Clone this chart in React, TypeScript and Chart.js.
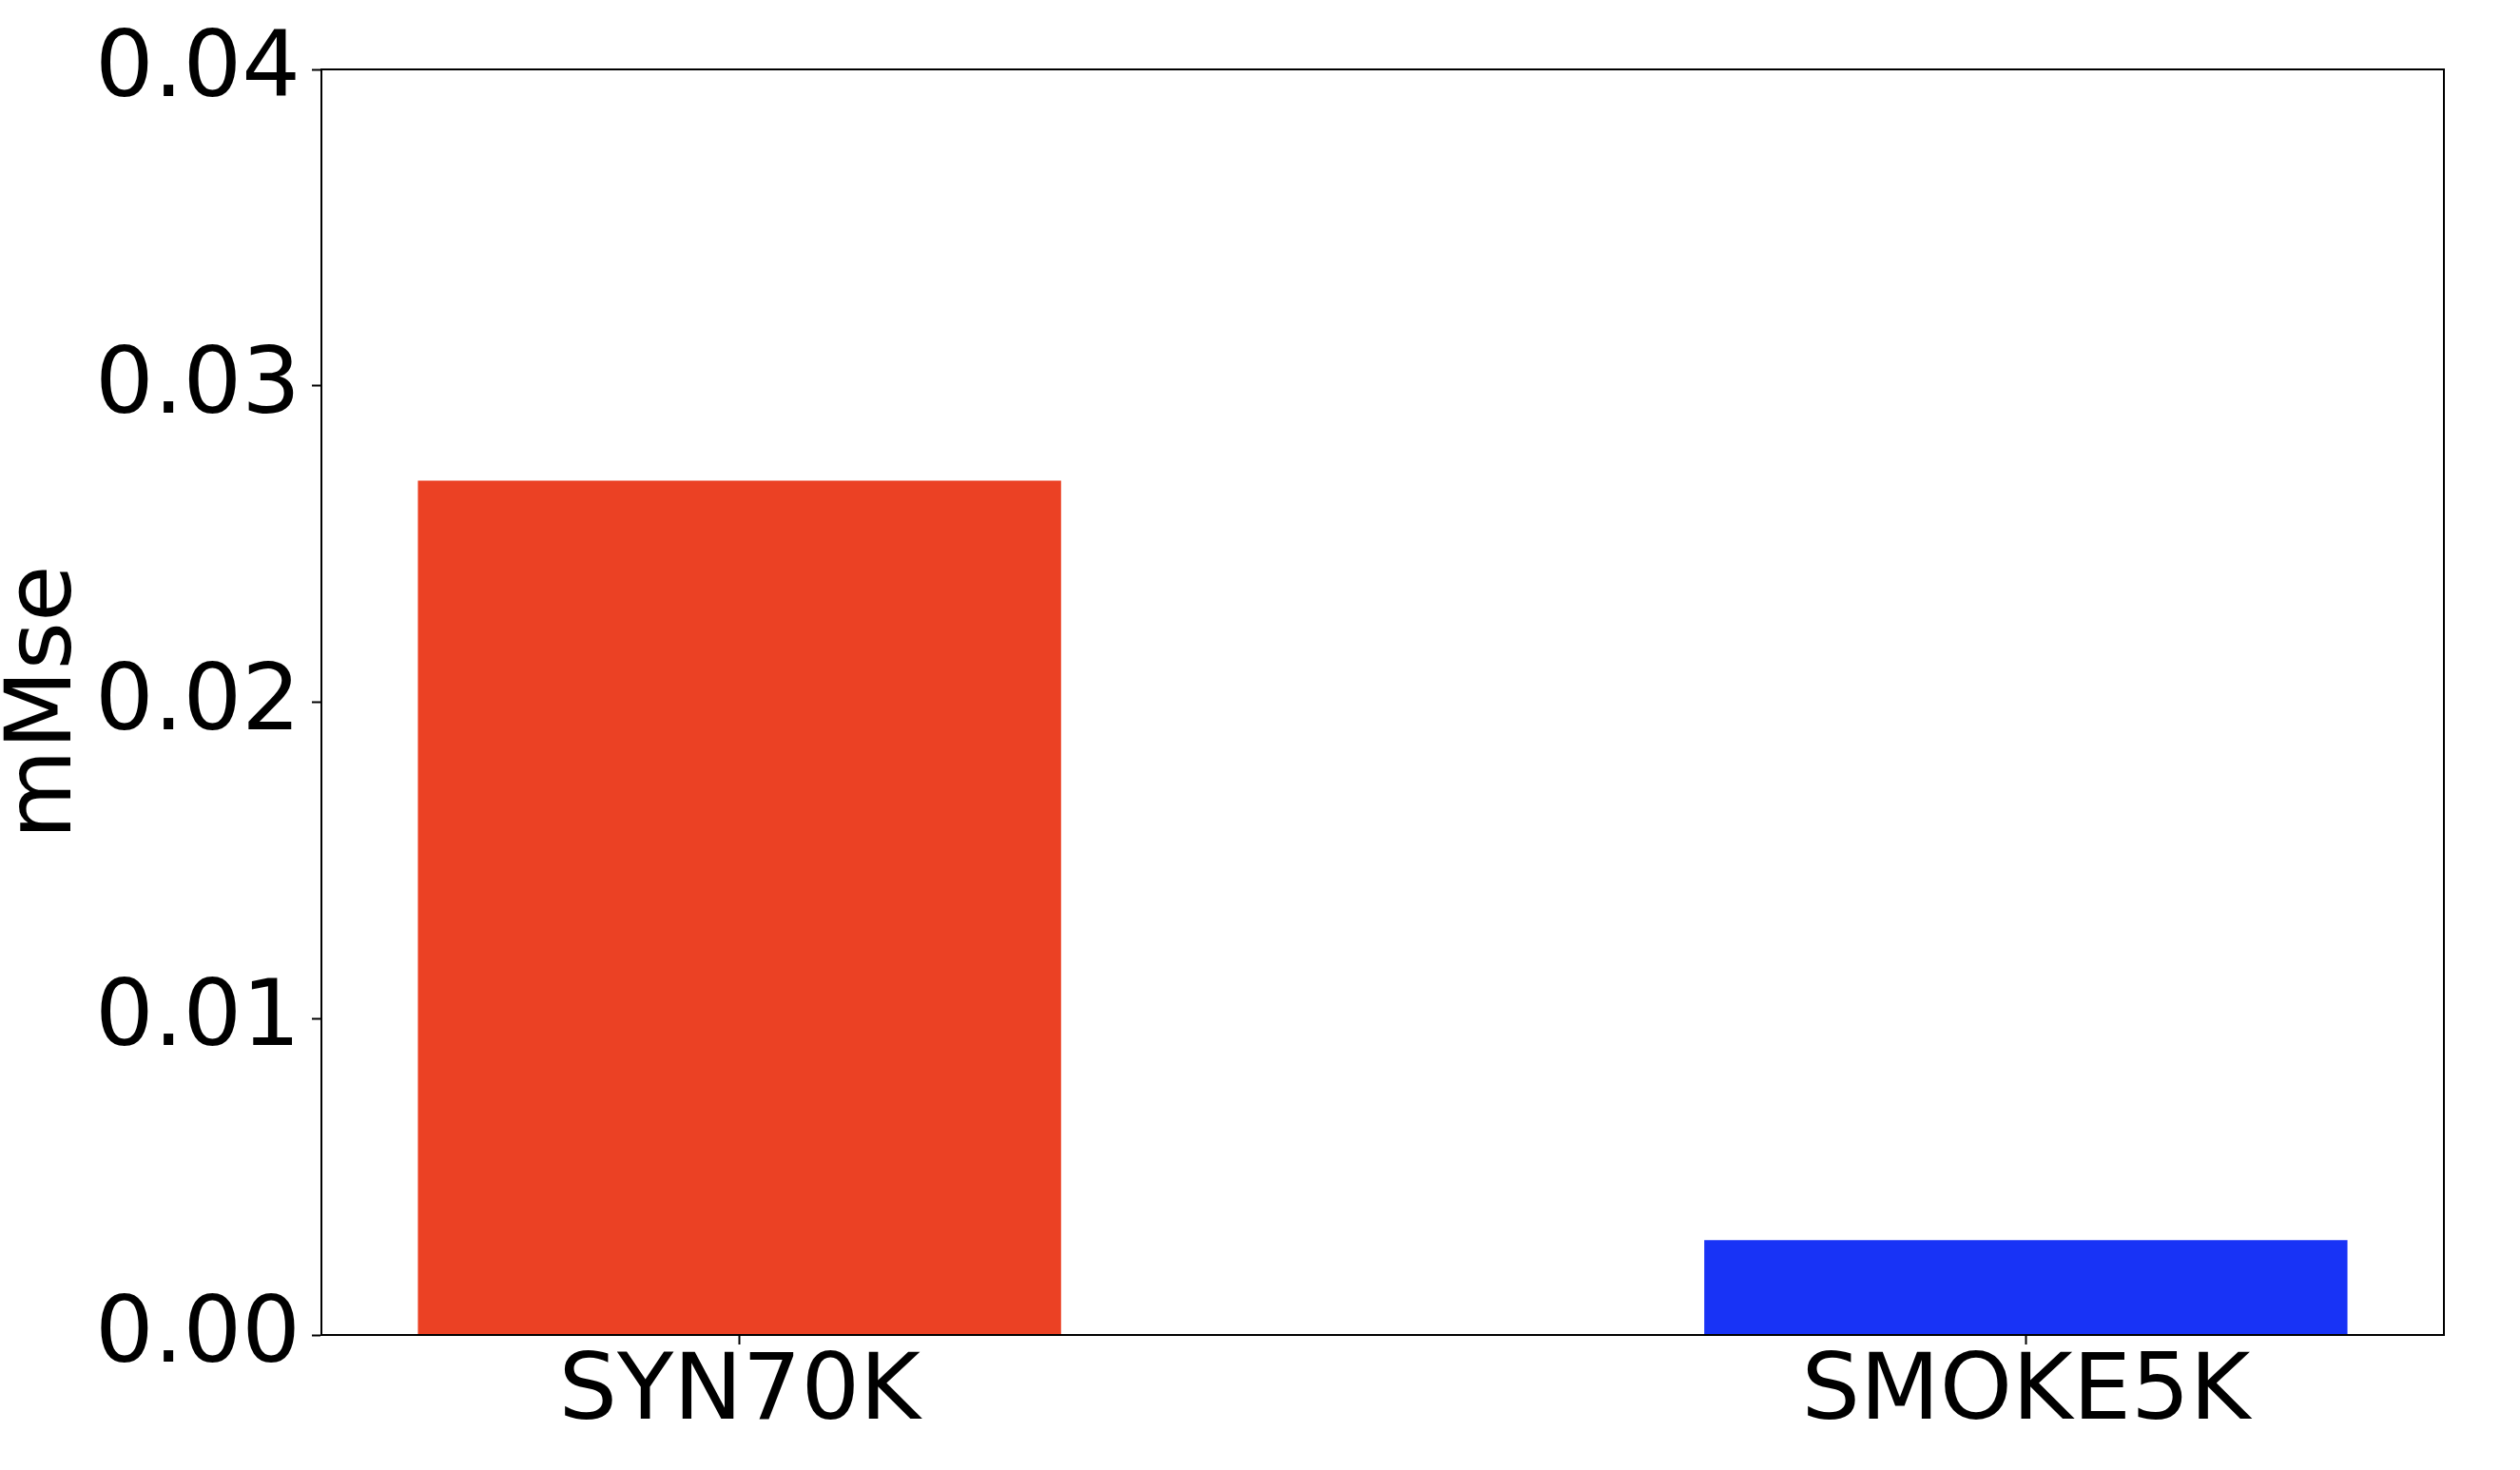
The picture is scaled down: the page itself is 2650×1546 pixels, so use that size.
import React, { useEffect, useRef } from "react";
import { Chart, registerables } from "chart.js";

Chart.register(...registerables);

const categories: string[] = ["SYN70K", "SMOKE5K"];
const mMseValues: number[] = [0.027, 0.003];
const barColors: string[] = ["#EB4124", "#1833F6"];
const yTickValues: number[] = [0, 0.01, 0.02, 0.03, 0.04];
const yAxisTitle = "mMse";

const W = 2650;
const H = 1546;
const FONT = "'DejaVu Sans', sans-serif";

const framePlugin = {
  id: "frame",
  afterDraw(chart: any) {
    const { ctx, chartArea } = chart;
    ctx.save();
    ctx.strokeStyle = "#000";
    ctx.lineWidth = 2;
    ctx.strokeRect(chartArea.left, chartArea.top, chartArea.right - chartArea.left, chartArea.bottom - chartArea.top);
    ctx.restore();
  },
};

export default function App() {
  const ref = useRef<HTMLCanvasElement | null>(null);
  useEffect(() => {
    if (!ref.current) return;
    const chart = new Chart(ref.current, {
      type: "bar",
      data: {
        datasets: [
          {
            data: categories.map((c, i) => ({ x: i, y: mMseValues[i] })),
            backgroundColor: barColors,
            borderWidth: 0,
            categoryPercentage: 0.5,
            barPercentage: 1,
          } as any,
        ],
      },
      plugins: [framePlugin],
      options: {
        responsive: false,
        animation: false,
        devicePixelRatio: 1,
        layout: { padding: { top: 73, right: 80, left: 0, bottom: 0 } },
        plugins: { legend: { display: false }, tooltip: { enabled: false } },
        scales: {
          x: {
            type: "linear",
            offset: false,
            min: -0.325,
            max: 1.325,
            afterBuildTicks: (scale: any) => {
              scale.ticks = categories.map((_, i) => ({ value: i }));
            },
            afterFit: (scale: any) => {
              scale.height = H - 1404;
            },
            border: { display: true, color: "#000", width: 2 },
            grid: {
              display: true,
              offset: false,
              drawOnChartArea: false,
              drawTicks: true,
              tickLength: 10,
              tickWidth: 2,
              tickColor: "#000",
            },
            ticks: {
              autoSkip: false,
              maxRotation: 0,
              minRotation: 0,
              padding: 4,
              color: "#000",
              font: { family: FONT, size: 97, lineHeight: 1 },
              callback: (v: any) => categories[v as number] ?? "",
            },
          },
          y: {
            type: "linear",
            min: 0,
            max: 0.04,
            afterBuildTicks: (scale: any) => {
              scale.ticks = yTickValues.map((v) => ({ value: v }));
            },
            afterFit: (scale: any) => {
              scale.width = 338;
            },
            border: { display: true, color: "#000", width: 2 },
            grid: {
              display: true,
              drawOnChartArea: false,
              drawTicks: true,
              tickLength: 10,
              tickWidth: 2,
              tickColor: "#000",
            },
            ticks: {
              padding: 12,
              labelOffset: 3,
              color: "#000",
              font: { family: FONT, size: 97, lineHeight: 1 },
              callback: (v: any) => Number(v).toFixed(2),
            },
            title: {
              display: true,
              text: yAxisTitle,
              color: "#000",
              font: { family: FONT, size: 97, lineHeight: 1.0 },
              padding: { top: 0, bottom: 0 },
            },
          },
        },
      },
    });
    return () => chart.destroy();
  }, []);
  return (
    <div style={{ position: "fixed", left: 0, top: 0, width: W, height: H, background: "#fff" }}>
      <canvas ref={ref} width={W} height={H} style={{ width: W, height: H, display: "block" }} />
    </div>
  );
}
